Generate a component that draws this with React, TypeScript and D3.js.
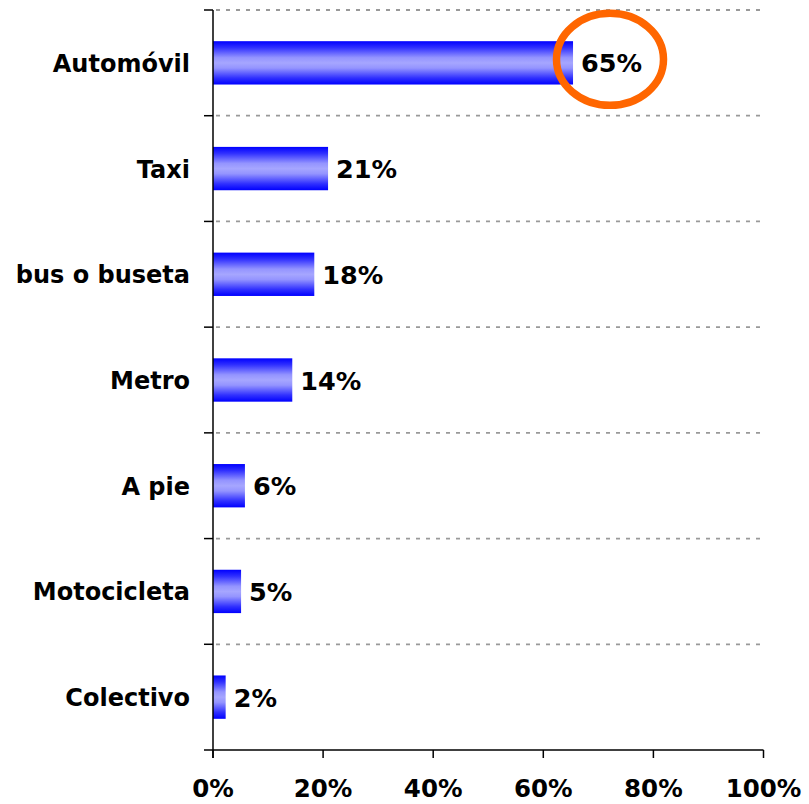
import React from "react";
import * as d3 from "d3";

const categories = ["Automóvil", "Taxi", "bus o buseta", "Metro", "A pie", "Motocicleta", "Colectivo"];
const values = [65.4, 20.9, 18.4, 14.4, 5.8, 5.1, 2.3];
const xTicks = [0, 20, 40, 60, 80, 100];

const W = 809;
const H = 804;
const left = 213;
const right = 763.5;
const top = 10;
const bottom = 750;
const font = "'DejaVu Sans', Verdana, sans-serif";

export default function App() {
  const x = d3.scaleLinear().domain([0, 100]).range([left, right]);
  const y = d3.scaleBand<string>().domain(categories).range([top, bottom]).paddingInner(0.59).paddingOuter(0.295);
  const band = (bottom - top) / categories.length;
  const edges = d3.range(categories.length).map((i) => top + i * band);
  const bw = y.bandwidth();
  const first = categories[0];
  const cy0 = (y(first) as number) + bw / 2;
  return (
    <svg width={W} height={H} style={{ position: "absolute", left: 0, top: 0 }}>
      <defs>
        <linearGradient id="barGrad" x1="0" y1="0" x2="0" y2="1">
          <stop offset="0%" stopColor="#0000ff" />
          <stop offset="15%" stopColor="#3030ff" />
          <stop offset="38%" stopColor="#9494ff" />
          <stop offset="50%" stopColor="#a6a6ff" />
          <stop offset="62%" stopColor="#9494ff" />
          <stop offset="85%" stopColor="#3030ff" />
          <stop offset="100%" stopColor="#0000ff" />
        </linearGradient>
      </defs>
      {edges.map((e, i) => (
        <line key={"g" + i} x1={left + 3} x2={right} y1={e} y2={e} stroke="#999" strokeWidth={1.8} strokeDasharray="4 6" />
      ))}
      {categories.map((c, i) => {
        const yy = y(c) as number;
        const cy = yy + bw / 2;
        return (
          <g key={c}>
            <rect x={x(0)} y={yy} width={x(values[i]) - x(0)} height={bw} fill="url(#barGrad)" />
            <text x={x(values[i]) + 8} y={cy + 9.5} fontFamily={font} fontWeight="bold" fontSize={25.5} fill="#000">
              {Math.round(values[i]) + "%"}
            </text>
            <text x={190} y={cy + 9} textAnchor="end" fontFamily={font} fontWeight="bold" fontSize={24} fill="#000">
              {c}
            </text>
          </g>
        );
      })}
      {/* y axis */}
      <line x1={left} x2={left} y1={top} y2={bottom + 8} stroke="#000" strokeWidth={1.5} />
      {edges.map((e, i) => (
        <line key={"yt" + i} x1={left - 9} x2={left} y1={e} y2={e} stroke="#000" strokeWidth={1.5} />
      ))}
      <line x1={left - 9} x2={right} y1={bottom} y2={bottom} stroke="#000" strokeWidth={1.5} />
      {xTicks.map((t) => (
        <g key={"xt" + t}>
          <line x1={x(t)} x2={x(t)} y1={bottom} y2={bottom + 8} stroke="#000" strokeWidth={1.5} />
          <text x={x(t)} y={797} textAnchor="middle" fontFamily={font} fontWeight="bold" fontSize={24.5} fill="#000">
            {t + "%"}
          </text>
        </g>
      ))}
      <ellipse cx={610} cy={cy0 - 3.5} rx={53.5} ry={46} fill="none" stroke="#ff6600" strokeWidth={7.5} />
    </svg>
  );
}
